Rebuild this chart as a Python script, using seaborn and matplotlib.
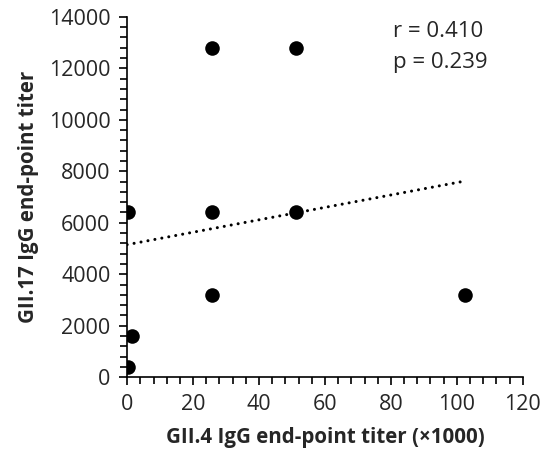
import numpy as np
import pandas as pd
import matplotlib
matplotlib.use('Agg')
import matplotlib.pyplot as plt
import seaborn as sns
from matplotlib.ticker import MultipleLocator

# GII.4 titer (x1000) vs GII.17 titer
gii4_titer = [0.4, 1.6, 0.4, 25.6, 51.2, 25.6, 51.2, 25.6, 102.4]
gii17_titer = [400, 1600, 6400, 12800, 12800, 6400, 6400, 3200, 3200]
stat_lines = ['r = 0.410', 'p = 0.239']

df = pd.DataFrame({'x': gii4_titer, 'y': gii17_titer})

sns.set_style('ticks')
plt.rcParams['font.family'] = ['Open Sans', 'DejaVu Sans']

fig = plt.figure(figsize=(5.48, 4.68), dpi=100)
ax = fig.add_axes([0.232, 0.194, 0.722, 0.770])

sns.scatterplot(data=df, x='x', y='y', ax=ax, color='black', s=110,
                edgecolor='black', linewidth=0, zorder=3)

# linear trend line
slope, intercept = np.polyfit(df['x'], df['y'], 1)
fit_x = np.array([0, df['x'].max()])
ax.plot(fit_x, intercept + slope * fit_x, color='black', lw=2.2,
        linestyle=(0, (0.01, 2.3)), dash_capstyle='round', zorder=2)

ax.set_xlim(0, 120)
ax.set_ylim(0, 14000)
ax.xaxis.set_major_locator(MultipleLocator(20))
ax.xaxis.set_minor_locator(MultipleLocator(4))
ax.yaxis.set_major_locator(MultipleLocator(2000))
ax.yaxis.set_minor_locator(MultipleLocator(400))
ax.tick_params(which='major', direction='out', length=6, width=1.2, labelsize=15.5, pad=6, color='black')
ax.tick_params(which='minor', direction='out', length=5, width=1.2, color='black')
for side in ['top', 'right']:
    ax.spines[side].set_visible(False)
for side in ['left', 'bottom']:
    ax.spines[side].set_linewidth(1.2)
    ax.spines[side].set_color('black')

ax.set_xlabel('GII.4 IgG end-point titer (×1000)', fontsize=14.8, fontweight='bold', labelpad=9)
ax.set_ylabel('GII.17 IgG end-point titer', fontsize=14.8, fontweight='bold', labelpad=7)

ax.text(0.672, 0.958, stat_lines[0], transform=ax.transAxes, fontsize=16, va='center', ha='left')
ax.text(0.672, 0.872, stat_lines[1], transform=ax.transAxes, fontsize=16, va='center', ha='left')

plt.savefig('out.png', dpi=100)
plt.close()
